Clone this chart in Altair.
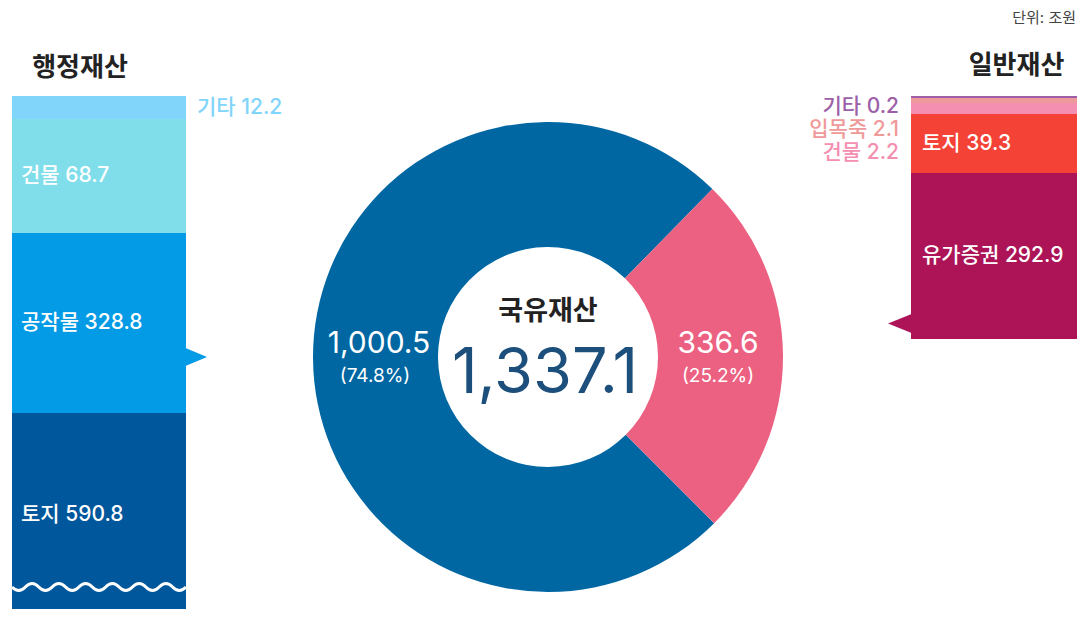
import altair as alt
import numpy as np
import pandas as pd

# ---------------- data ----------------
admin_names = ["토지", "공작물", "건물", "기타"]
admin_values = [590.8, 328.8, 68.7, 12.2]
general_names = ["유가증권", "토지", "건물", "입목죽", "기타"]
general_values = [292.9, 39.3, 2.2, 2.1, 0.2]
total_names = ["행정재산", "일반재산"]
total_values = [1000.5, 336.6]
total_shares = [74.8, 25.2]
grand_total = 1337.1
center_title = "국유재산"
unit_text = "단위: 조원"

# ---------------- styles ----------------
FONT = "Inter, Noto Sans CJK KR"
admin_colors = ["#01579b", "#039be5", "#80deea", "#81d4fa"]
general_colors = ["#ad1457", "#f44336", "#f48fb1", "#ef9a9a", "#9c5fa8"]
donut_colors = ["#0067a3", "#ec6182"]
admin_outside = ["기타"]
general_outside = ["기타", "입목죽", "건물"]

admin_df = pd.DataFrame({"name": admin_names, "value": admin_values, "idx": range(len(admin_names))})
admin_df["label"] = [f"{n} {v}" for n, v in zip(admin_names, admin_values)]
general_df = pd.DataFrame({"name": general_names, "value": general_values, "idx": range(len(general_names))})
general_df["label"] = [f"{n} {v}" for n, v in zip(general_names, general_values)]
donut_df = pd.DataFrame({"name": total_names, "value": total_values, "idx": [0, 1]})
donut_df["vlabel"] = [f"{v:,.1f}" for v in total_values]
donut_df["slabel"] = [f"({s}%)" for s in total_shares]

admin_domain = [0.0] + [round(float(c), 6) for c in np.cumsum(admin_values)]
general_domain = [0.0] + [round(float(c), 6) for c in np.cumsum(general_values)]

# piecewise pixel ranges (stylised, non-proportional bars)
admin_scale = alt.Scale(domain=admin_domain, range=[609, 405, 225, 111, 88], nice=False)
general_scale = alt.Scale(domain=general_domain, range=[331, 165, 106, 95, 90, 88], nice=False)
admin_color = alt.Scale(domain=admin_names, range=admin_colors)
general_color = alt.Scale(domain=general_names, range=general_colors)


def stacked(df):
    return alt.Chart(df).transform_window(
        cum="sum(value)", sort=[alt.SortField("idx", order="ascending")], frame=[None, 0]
    ).transform_calculate(
        start="datum.cum - datum.value", mid="datum.cum - datum.value / 2"
    )


LBL = dict(baseline="middle", font=FONT, fontSize=21, fontWeight=500)

# ---------------- left stacked bar ----------------
admin_base = stacked(admin_df)
admin_bar = admin_base.mark_rect().encode(
    x=alt.value(4), x2=alt.value(178),
    y=alt.Y("start:Q", scale=admin_scale, axis=None), y2="cum:Q",
    color=alt.Color("name:N", scale=admin_color, legend=None),
)
admin_in = admin_base.transform_filter(
    {"not": alt.FieldOneOfPredicate(field="name", oneOf=admin_outside)}
).mark_text(align="left", color="white", **LBL).encode(
    x=alt.value(13), y=alt.Y("mid:Q", scale=admin_scale, axis=None), text="label:N"
)
admin_out = admin_base.transform_filter(
    alt.FieldOneOfPredicate(field="name", oneOf=admin_outside)
).mark_text(align="left", **LBL).encode(
    x=alt.value(189), y=alt.Y("mid:Q", scale=admin_scale, axis=None), text="label:N",
    color=alt.Color("name:N", scale=admin_color, legend=None),
)

# wave break mark
n_half, h, c = 13, 2.0 / 13, 0.08
parts = ["M-1,0"]
for i in range(n_half):
    x0 = -1 + i * h
    sgn = 1 if i % 2 == 0 else -1
    parts.append(f"Q{x0 + h / 2:.4f},{sgn * c:.4f} {x0 + h:.4f},0")
wave_path = " ".join(parts)
dummy = pd.DataFrame({"k": [0]})
wave = alt.Chart(dummy).mark_point(
    shape=wave_path, filled=False, color="white", strokeWidth=3, size=174 ** 2, opacity=1
).encode(x=alt.value(91), y=alt.value(579))

left_tri = alt.Chart(dummy).mark_point(
    shape="M-1.05,-0.857 L1,0 L-1.05,0.857 Z", filled=True, color=admin_colors[1],
    size=21 ** 2, opacity=1, strokeWidth=0
).encode(x=alt.value(188.5), y=alt.value(349))

# ---------------- right stacked bar ----------------
general_base = stacked(general_df)
general_bar = general_base.mark_rect().encode(
    x=alt.value(903), x2=alt.value(1069),
    y=alt.Y("start:Q", scale=general_scale, axis=None), y2="cum:Q",
    color=alt.Color("name:N", scale=general_color, legend=None),
)
general_in = general_base.transform_filter(
    {"not": alt.FieldOneOfPredicate(field="name", oneOf=general_outside)}
).mark_text(align="left", color="white", **LBL).encode(
    x=alt.value(914), y=alt.Y("mid:Q", scale=general_scale, axis=None), text="label:N"
)
general_out = general_base.transform_filter(
    alt.FieldOneOfPredicate(field="name", oneOf=general_outside)
).mark_text(align="right", **LBL).encode(
    x=alt.value(891),
    y=alt.Y("name:N", sort=general_outside, scale=alt.Scale(type="point", range=[99, 145], padding=0), axis=None),
    text="label:N",
    color=alt.Color("name:N", scale=general_color, legend=None),
)
right_tri = alt.Chart(dummy).mark_point(
    shape="M1.05,-0.826 L-1,0 L1.05,0.826 Z", filled=True, color=general_colors[0],
    size=23 ** 2, opacity=1, strokeWidth=0
).encode(x=alt.value(891.5), y=alt.value(315.5))

# ---------------- donut ----------------
start = 3 * np.pi / 4
donut = alt.Chart(donut_df).mark_arc(innerRadius=110, outerRadius=235).encode(
    theta=alt.Theta("value:Q", stack=True, scale=alt.Scale(range=[start, start + 2 * np.pi])),
    color=alt.Color("name:N", scale=alt.Scale(domain=total_names, range=donut_colors), legend=None),
    order=alt.Order("idx:Q", sort="ascending"),
    x=alt.value(540), y=alt.value(349),
)


def one_text(txt, x, y, **kw):
    return alt.Chart(pd.DataFrame({"t": [txt]})).mark_text(font=FONT, **kw).encode(
        text="t:N", x=alt.value(x), y=alt.value(y)
    )


left_val = alt.Chart(donut_df.iloc[[0]]).mark_text(
    font=FONT, fontSize=30, color="white", baseline="alphabetic").encode(
    text="vlabel:N", x=alt.value(371), y=alt.value(345))
left_pct = alt.Chart(donut_df.iloc[[0]]).mark_text(
    font=FONT, fontSize=19, color="white", baseline="alphabetic").encode(
    text="slabel:N", x=alt.value(367), y=alt.value(374))
right_val = alt.Chart(donut_df.iloc[[1]]).mark_text(
    font=FONT, fontSize=30, color="white", baseline="alphabetic").encode(
    text="vlabel:N", x=alt.value(710), y=alt.value(345))
right_pct = alt.Chart(donut_df.iloc[[1]]).mark_text(
    font=FONT, fontSize=19, color="white", baseline="alphabetic").encode(
    text="slabel:N", x=alt.value(710), y=alt.value(374))

center_name = one_text(center_title, 540, 304, fontSize=27, fontWeight="bold", color="#222222", baseline="middle")
center_total = one_text(f"{grand_total:,.1f}", 537, 385, fontSize=63, color="#1d4f7c", baseline="alphabetic")

title_left = one_text(total_names[0], 72, 59.5, fontSize=26, fontWeight="bold", color="#222222", baseline="middle")
title_right = one_text(total_names[1], 1008.5, 57.5, fontSize=26, fontWeight="bold", color="#222222", baseline="middle")
unit = one_text(unit_text, 1068, 10, fontSize=15, color="#444444", align="right", baseline="middle")

chart = alt.layer(
    admin_bar, wave, left_tri, admin_in, admin_out,
    general_bar, right_tri, general_in, general_out,
    donut, left_val, left_pct, right_val, right_pct, center_name, center_total,
    title_left, title_right, unit,
).resolve_scale(
    y="independent", color="independent", theta="independent"
).properties(
    width=1069, height=601, padding=0,
    autosize=alt.AutoSizeParams(type="none"),
).configure_view(strokeWidth=0)

chart.save("out.html", embed_options={"renderer": "svg", "actions": False})
